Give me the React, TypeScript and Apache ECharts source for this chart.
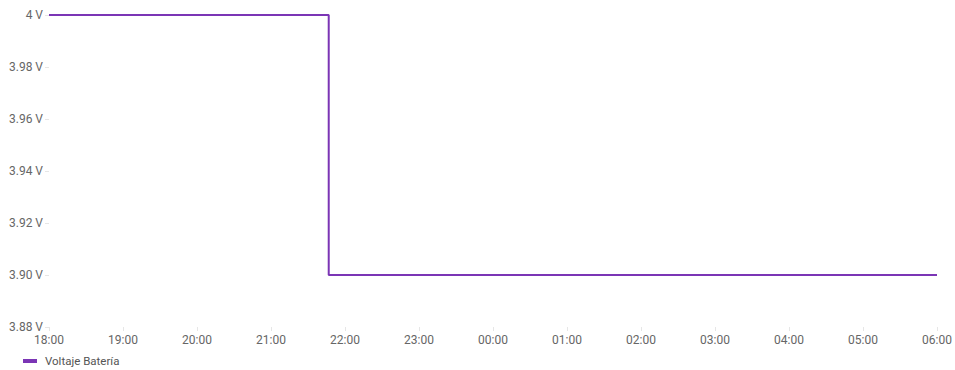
import React, { useEffect, useRef } from "react";
import * as echarts from "echarts";

// hours elapsed since 18:00
const hours = [0, 3.78, 3.78, 12];
const voltage = [4, 4, 3.9, 3.9];
const seriesName = "Voltaje Batería";
const startHour = 18;

export default function App() {
  const ref = useRef<HTMLDivElement>(null);
  useEffect(() => {
    if (!ref.current) return;
    const chart = echarts.init(ref.current, undefined, { renderer: "svg" });
    const font = "Roboto, sans-serif";
    chart.setOption({
      animation: false,
      textStyle: { fontFamily: font },
      grid: { left: 49, right: 18, top: 15, bottom: 43 },
      legend: {
        left: 18,
        top: 350,
        icon: "rect",
        itemWidth: 14,
        itemHeight: 4,
        textStyle: { color: "#555", fontSize: 11.5, fontFamily: font, padding: [0, 0, 0, 3] },
        data: [seriesName],
      },
      xAxis: {
        type: "value",
        min: 0,
        max: 12,
        interval: 1,
        axisLine: { show: false },
        axisTick: { show: true, length: 4, lineStyle: { color: "#e6e6e6" } },
        splitLine: { show: false },
        axisLabel: {
          color: "#666",
          fontSize: 12,
          margin: 7,
          fontFamily: font,
          formatter: (v: number) => String((startHour + v) % 24).padStart(2, "0") + ":00",
        },
      },
      yAxis: {
        type: "value",
        min: 3.88,
        max: 4,
        interval: 0.02,
        axisLine: { show: false },
        axisTick: { show: true, length: 4, lineStyle: { color: "#e6e6e6" } },
        splitLine: { show: false },
        axisLabel: {
          color: "#666",
          fontSize: 12,
          margin: 6,
          fontFamily: font,
          formatter: (v: number) => (Math.abs(v - Math.round(v)) < 1e-9 ? String(Math.round(v)) : v.toFixed(2)) + " V",
        },
      },
      series: [
        {
          name: seriesName,
          type: "line",
          data: hours.map((h, i) => [h, voltage[i]]),
          showSymbol: false,
          symbol: "none",
          lineStyle: { color: "#7b35b5", width: 2 },
          itemStyle: { color: "#7b35b5" },
        },
      ],
    });
    return () => chart.dispose();
  }, []);
  return <div ref={ref} style={{ width: 955, height: 370, position: "absolute", left: 0, top: 0 }} />;
}
